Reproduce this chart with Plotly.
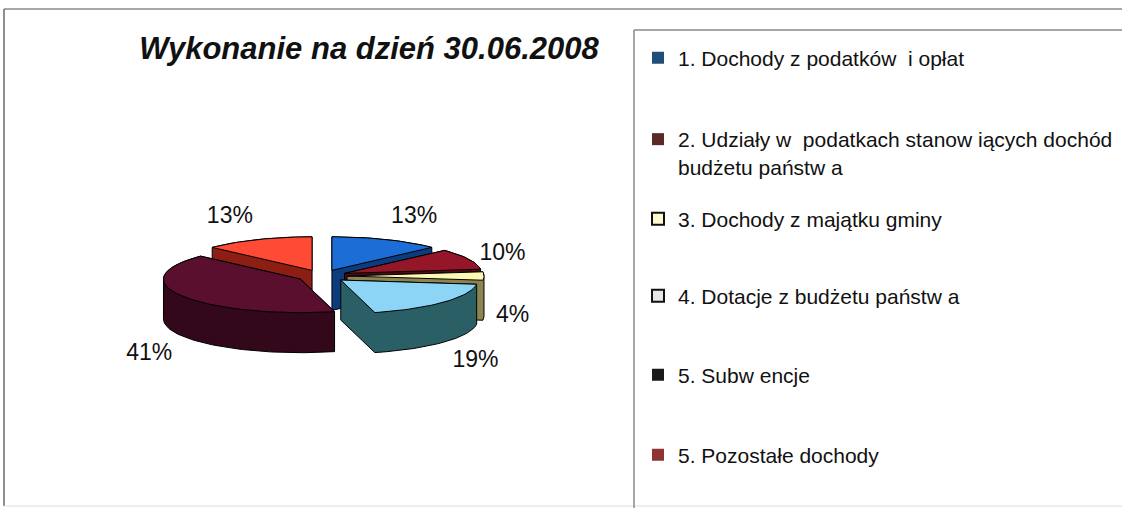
import numpy as np
import plotly.graph_objects as go

# ---------------- data ----------------
categories = [
    "1. Dochody z podatków  i opłat",
    "2. Udziały w  podatkach stanow iących dochód<br>budżetu państw a",
    "3. Dochody z majątku gminy",
    "4. Dotacje z budżetu państw a",
    "5. Subw encje",
    "5. Pozostałe dochody",
]
values = [13, 10, 4, 19, 41, 13]
title_text = "Wykonanie na dzień 30.06.2008"

# ---------------- styles ----------------
top_colors = ["#1C6ED6", "#961629", "#FFF7B4", "#8CD5F6", "#5A0F2E", "#FF4A35"]
side_colors = ["#0C3C7E", "#4E0A15", "#8C8552", "#2B5F66", "#32081A", "#8C1E14"]
legend_colors = ["#1F4E79", "#5B2A26", "#FFFAD2", "#E6E6E6", "#1A1A1A", "#8E3432"]
legend_edges = ["#1F4E79", "#5B2A26", "#111111", "#111111", "#1A1A1A", "#8E3432"]
legend_edge_w = [0, 0, 2, 2, 0, 0]
legend_y_px = [58, 153, 219, 296, 375, 455]

W, H = 1122, 508
FONT = "Liberation Sans, Arial, sans-serif"

# pie geometry (pixel-like units of the hidden axes)
CX, CY = 322, 276
R = 137
TILT = 0.245
DEPTH = 40
EXPLODE = 25


def hull(points):
    pts = sorted(set(points))
    if len(pts) <= 2:
        return pts

    def cross(o, a, b):
        return (a[0] - o[0]) * (b[1] - o[1]) - (a[1] - o[1]) * (b[0] - o[0])

    lower, upper = [], []
    for p in pts:
        while len(lower) >= 2 and cross(lower[-2], lower[-1], p) <= 0:
            lower.pop()
        lower.append(p)
    for p in reversed(pts):
        while len(upper) >= 2 and cross(upper[-2], upper[-1], p) <= 0:
            upper.pop()
        upper.append(p)
    return lower[:-1] + upper[:-1]


total = float(sum(values))
cum = np.concatenate([[0.0], np.cumsum(values)]) / total * 2 * np.pi
slices = []
for i, v in enumerate(values):
    a0, a1 = cum[i], cum[i + 1]
    m = 0.5 * (a0 + a1)
    ex, ey = EXPLODE * np.sin(m), EXPLODE * np.cos(m)
    th = np.linspace(a0, a1, max(3, int(np.degrees(a1 - a0) / 2) + 3))
    px = np.concatenate([[ex], ex + R * np.sin(th)])
    py = np.concatenate([[ey], ey + R * np.cos(th)])
    X = CX + px
    Y = CY - TILT * py
    slices.append(dict(i=i, m=m, X=X, Y=Y))

fig = go.Figure()

# draw back-to-front
for s in sorted(slices, key=lambda s: -np.cos(s["m"])):
    i = s["i"]
    X, Y = s["X"], s["Y"]
    pts = [(float(x), float(y)) for x, y in zip(X, Y)] + \
          [(float(x), float(y + DEPTH)) for x, y in zip(X, Y)]
    hp = hull(pts)
    hx = [p[0] for p in hp] + [hp[0][0]]
    hy = [p[1] for p in hp] + [hp[0][1]]
    fig.add_trace(go.Scatter(x=hx, y=hy, mode="lines", fill="toself",
                             fillcolor=side_colors[i], line=dict(color="#000000", width=1),
                             hoverinfo="skip", showlegend=False))
    fig.add_trace(go.Scatter(x=list(X) + [X[0]], y=list(Y) + [Y[0]], mode="lines", fill="toself",
                             fillcolor=top_colors[i], line=dict(color="#000000", width=1),
                             name=categories[i].replace("<br>", " "), text=[f"{values[i]}%"] * len(X),
                             hoverinfo="name+text", showlegend=False))

# data labels
lx, ly, lt, lp = [], [], [], []
for s in slices:
    m = s["m"]
    sx, cy_ = np.sin(m), np.cos(m)
    x = CX + (R + EXPLODE) * sx + 12 * sx
    y = CY - TILT * (R + EXPLODE) * cy_ - 12 * cy_
    if cy_ < 0.05:
        y += DEPTH
    horiz = "right" if sx > 0 else "left"
    vert = "top" if cy_ > 0.6 else ("bottom" if cy_ < -0.4 else "middle")
    lx.append(x)
    ly.append(y)
    lt.append(f"{values[s['i']]}%")
    lp.append(f"{vert} {horiz}")
fig.add_trace(go.Scatter(x=lx, y=ly, mode="text", text=lt, textposition=lp,
                         textfont=dict(family=FONT, size=23, color="#111111"),
                         hoverinfo="skip", showlegend=False))

# legend entries (one legend per entry, to reproduce the spacing)
legend_layout = {}
for i, cat in enumerate(categories):
    lname = "legend" if i == 0 else f"legend{i + 1}"
    fig.add_trace(go.Scatter(x=[None], y=[None], mode="markers", name=cat,
                             marker=dict(symbol="square", size=12, color=legend_colors[i],
                                         line=dict(color=legend_edges[i], width=legend_edge_w[i])),
                             legend=lname, showlegend=True))
    legend_layout[lname] = dict(
        x=638 / W, xanchor="left", y=1 - legend_y_px[i] / H, yanchor="middle",
        bgcolor="rgba(0,0,0,0)", borderwidth=0, valign="top",
        font=dict(family=FONT, size=21, color="#111111"),
    )

shapes = [
    # outer frame
    dict(type="line", xref="paper", yref="paper", x0=4 / W, x1=1, y0=1 - 9 / H, y1=1 - 9 / H,
         line=dict(color="#8A8A8A", width=1.5)),
    dict(type="line", xref="paper", yref="paper", x0=4 / W, x1=4 / W, y0=1 - 9 / H, y1=1 - 506 / H,
         line=dict(color="#6A6A6A", width=1.5)),
    dict(type="line", xref="paper", yref="paper", x0=4 / W, x1=1, y0=1 - 506 / H, y1=1 - 506 / H,
         line=dict(color="#DDDDDD", width=1)),
    # legend box
    dict(type="line", xref="paper", yref="paper", x0=634 / W, x1=1, y0=1 - 30 / H, y1=1 - 30 / H,
         line=dict(color="#8A8A8A", width=1.5)),
    dict(type="line", xref="paper", yref="paper", x0=634 / W, x1=634 / W, y0=1 - 30 / H, y1=0,
         line=dict(color="#8A8A8A", width=1.5)),
]

fig.update_layout(
    width=W, height=H,
    margin=dict(l=0, r=0, t=0, b=0, autoexpand=False),
    paper_bgcolor="white", plot_bgcolor="white",
    xaxis=dict(range=[0, W], visible=False, fixedrange=True),
    yaxis=dict(range=[H, 0], visible=False, fixedrange=True),
    title=dict(text=title_text, x=369 / W, xanchor="center", xref="paper",
               y=1 - 48 / H, yref="container", yanchor="middle",
               font=dict(family=FONT, size=31, color="#111111", weight="bold", style="italic")),
    shapes=shapes,
    **legend_layout,
)

fig.write_html("out.html", config={"displayModeBar": False},
               post_script="document.body.style.margin='0';document.body.style.overflow='hidden';")
